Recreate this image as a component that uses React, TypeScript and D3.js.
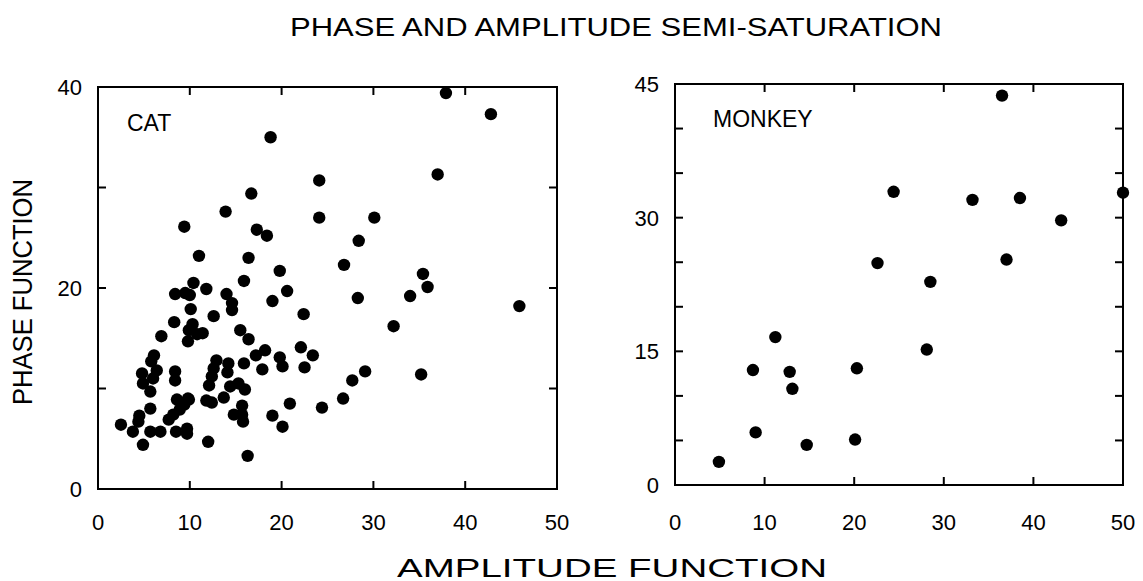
import React from "react";
import * as d3 from "d3";

// CAT panel: amplitude function (x) vs phase function (y)
const catX = [18.8,24.1,24.1,16.7,13.9,9.4,17.3,18.4,11.0,16.4,19.8,15.9,10.4,
  37.9,42.8,37.0,30.1,28.4,26.8,35.4,35.9,28.3,34.0,45.9,32.2,29.1,27.7,35.2,26.7,24.4,
  11.8,8.4,9.5,10.0,14.0,14.6,14.6,20.6,19.0,22.4,10.1,12.6,8.3,10.3,6.9,9.9,10.8,11.4,9.8,
  15.5,16.4,22.1,23.4,17.2,18.2,19.8,20.1,22.5,17.9,15.9,12.9,14.2,12.6,14.1,12.4,12.1,
  6.1,5.8,6.4,4.8,4.9,6.0,5.7,8.4,8.4,14.4,15.3,16.0,13.7,11.8,12.4,8.6,9.8,5.7,
  7.7,8.2,8.9,9.4,9.9,4.5,4.4,2.5,3.8,5.7,6.8,8.5,9.7,9.7,4.9,12.0,16.3,
  14.8,15.7,15.7,15.8,19.0,20.1,20.9];
const catY = [35.0,30.7,27.0,29.4,27.6,26.1,25.8,25.2,23.2,23.0,21.7,20.7,20.5,
  39.4,37.3,31.3,27.0,24.7,22.3,21.4,20.1,19.0,19.2,18.2,16.2,11.7,10.8,11.4,9.0,8.1,
  19.9,19.4,19.5,19.3,19.4,18.5,17.8,19.7,18.7,17.4,17.9,17.2,16.6,16.4,15.2,15.8,15.4,15.5,14.7,
  15.8,14.9,14.1,13.3,13.3,13.8,13.1,12.2,12.1,11.9,12.5,12.8,12.5,12.0,11.6,11.2,10.3,
  13.3,12.7,11.8,11.5,10.5,11.0,9.7,11.7,10.8,10.2,10.5,9.9,9.1,8.8,8.6,8.9,9.0,8.0,
  6.9,7.4,7.9,8.4,8.9,7.3,6.7,6.4,5.7,5.7,5.7,5.7,6.0,5.5,4.4,4.7,3.3,
  7.4,8.3,7.4,6.7,7.3,6.2,8.5];

// MONKEY panel
const monkeyX = [24.4,22.6,36.5,33.2,38.5,50.0,43.1,37.0,28.5,28.1,11.2,8.7,12.8,13.1,20.3,9.0,14.7,20.1,4.9];
const monkeyY = [32.9,24.9,43.7,32.0,32.2,32.8,29.7,25.3,22.8,15.2,16.6,12.9,12.7,10.8,13.1,5.9,4.5,5.1,2.6];

const xTickLabels = [0, 10, 20, 30, 40, 50];
const catYLabels = [0, 20, 40];
const catYTicks = [10, 20, 30];
const monkeyYLabels = [0, 15, 30, 45];
const monkeyYTicks = [5, 10, 15, 20, 25, 30, 35, 40];
const innerXTicks = [10, 20, 30, 40];

const FONT = "'Liberation Sans', Arial, Helvetica, sans-serif";

type PanelProps = {
  xs: number[]; ys: number[];
  left: number; right: number; top: number; bottom: number;
  yMax: number; yLabels: number[]; yTicks: number[];
  name: string; nameX: number; nameY: number;
};

function Panel(p: PanelProps) {
  const x = d3.scaleLinear().domain([0, 50]).range([p.left, p.right]);
  const y = d3.scaleLinear().domain([0, p.yMax]).range([p.bottom, p.top]);
  const tl = 8;
  return (
    <g>
      <rect x={p.left} y={p.top} width={p.right - p.left} height={p.bottom - p.top}
        fill="none" stroke="#000" strokeWidth={2} />
      {innerXTicks.map((t) => (
        <g key={"xt" + t}>
          <line x1={x(t)} x2={x(t)} y1={p.bottom} y2={p.bottom - tl} stroke="#000" strokeWidth={2} />
          <line x1={x(t)} x2={x(t)} y1={p.top} y2={p.top + tl} stroke="#000" strokeWidth={2} />
        </g>
      ))}
      {p.yTicks.map((t) => (
        <g key={"yt" + t}>
          <line x1={p.left} x2={p.left + tl} y1={y(t)} y2={y(t)} stroke="#000" strokeWidth={2} />
          <line x1={p.right} x2={p.right - tl} y1={y(t)} y2={y(t)} stroke="#000" strokeWidth={2} />
        </g>
      ))}
      {xTickLabels.map((t) => (
        <text key={"xl" + t} x={x(t)} y={530} textAnchor="middle"
          fontFamily={FONT} fontSize={22}>{t}</text>
      ))}
      {p.yLabels.map((t) => (
        <text key={"yl" + t} x={p.left - 16} y={y(t)} dy="0.36em" textAnchor="end"
          fontFamily={FONT} fontSize={22}>{t}</text>
      ))}
      <text x={p.nameX} y={p.nameY} fontFamily={FONT} fontSize={23}>{p.name}</text>
      {p.xs.map((v, i) => (
        <circle key={i} cx={x(v)} cy={y(p.ys[i])} r={6.2} fill="#000" />
      ))}
    </g>
  );
}

export default function App() {
  return (
    <svg width={1143} height={581} style={{ display: "block", position: "absolute", left: 0, top: 0 }}>
      <rect width={1143} height={581} fill="#fff" />
      <text x={290} y={36} textLength={652} lengthAdjust="spacingAndGlyphs"
        fontFamily={FONT} fontSize={25}>
        PHASE AND AMPLITUDE SEMI-SATURATION
      </text>
      <Panel xs={catX} ys={catY} left={98} right={557} top={87} bottom={489}
        yMax={40} yLabels={catYLabels} yTicks={catYTicks}
        name="CAT" nameX={127} nameY={131} />
      <Panel xs={monkeyX} ys={monkeyY} left={675} right={1123} top={84} bottom={485}
        yMax={45} yLabels={monkeyYLabels} yTicks={monkeyYTicks}
        name="MONKEY" nameX={713} nameY={127} />
      <text x={397} y={577} textLength={430} lengthAdjust="spacingAndGlyphs"
        fontFamily={FONT} fontSize={25}>
        AMPLITUDE FUNCTION
      </text>
      <text transform="translate(32,292) rotate(-90)" textAnchor="middle"
        textLength={226} lengthAdjust="spacingAndGlyphs" fontFamily={FONT} fontSize={28}>
        PHASE FUNCTION
      </text>
    </svg>
  );
}
